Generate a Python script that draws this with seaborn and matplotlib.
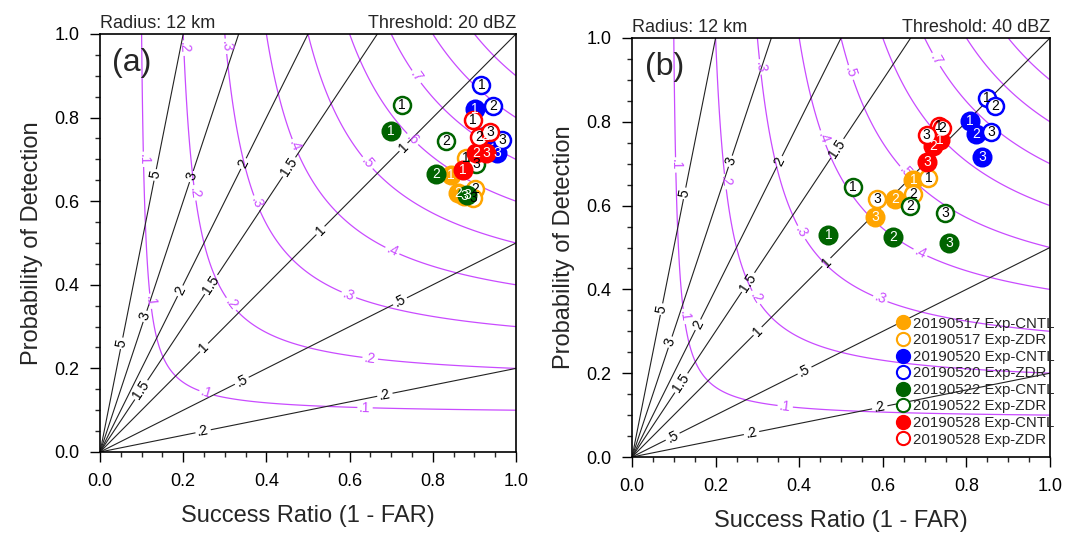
import numpy as np
import pandas as pd
import matplotlib
matplotlib.use("Agg")
import matplotlib.pyplot as plt
from matplotlib.lines import Line2D
from matplotlib.ticker import MultipleLocator
import seaborn as sns

sns.set_theme(style="ticks")
plt.rcParams['font.family'] = ['Liberation Sans', 'DejaVu Sans']

# ---------------- data ----------------
dates = ['20190517', '20190520', '20190522', '20190528']
date_colors = ['#FFA500', '#0000FF', '#006400', '#FF0000']
exps = ['Exp-CNTL', 'Exp-ZDR']
point_ids = ['1', '2', '3']

# Panel (a): threshold 20 dBZ  (success ratio, POD)
a_0517_cntl_sr = [0.843, 0.861, 0.875]; a_0517_cntl_pod = [0.663, 0.619, 0.612]
a_0517_zdr_sr = [0.880, 0.901, 0.897];  a_0517_zdr_pod = [0.703, 0.628, 0.607]
a_0520_cntl_sr = [0.901, 0.925, 0.955]; a_0520_cntl_pod = [0.820, 0.755, 0.715]
a_0520_zdr_sr = [0.917, 0.945, 0.966];  a_0520_zdr_pod = [0.878, 0.828, 0.746]
a_0522_cntl_sr = [0.699, 0.808, 0.883]; a_0522_cntl_pod = [0.768, 0.665, 0.614]
a_0522_zdr_sr = [0.725, 0.832, 0.905];  a_0522_zdr_pod = [0.830, 0.744, 0.688]
a_0528_cntl_sr = [0.873, 0.904, 0.929]; a_0528_cntl_pod = [0.675, 0.716, 0.716]
a_0528_zdr_sr = [0.897, 0.912, 0.937];  a_0528_zdr_pod = [0.794, 0.753, 0.766]

# Panel (b): threshold 40 dBZ
b_0517_cntl_sr = [0.673, 0.629, 0.581]; b_0517_cntl_pod = [0.661, 0.615, 0.572]
b_0517_zdr_sr = [0.709, 0.673, 0.587];  b_0517_zdr_pod = [0.665, 0.628, 0.615]
b_0520_cntl_sr = [0.809, 0.823, 0.838]; b_0520_cntl_pod = [0.802, 0.771, 0.717]
b_0520_zdr_sr = [0.849, 0.868, 0.859];  b_0520_zdr_pod = [0.856, 0.838, 0.776]
b_0522_cntl_sr = [0.470, 0.625, 0.759]; b_0522_cntl_pod = [0.529, 0.526, 0.511]
b_0522_zdr_sr = [0.528, 0.665, 0.749];  b_0522_zdr_pod = [0.644, 0.599, 0.582]
b_0528_cntl_sr = [0.737, 0.721, 0.706]; b_0528_cntl_pod = [0.757, 0.742, 0.705]
b_0528_zdr_sr = [0.735, 0.741, 0.705];  b_0528_zdr_pod = [0.790, 0.786, 0.768]

csi_levels = [0.1, 0.2, 0.3, 0.4, 0.5, 0.6, 0.7, 0.8, 0.9]
bias_levels = [0.2, 0.5, 1.0, 1.5, 2.0, 3.0, 5.0]
panel_tags = ['(a)', '(b)']
thresholds = ['Threshold: 20 dBZ', 'Threshold: 40 dBZ']
radius_text = 'Radius: 12 km'


def build_frame(prefix):
    rows = []
    g = globals()
    for d, date in enumerate(dates):
        for e, exp in enumerate(exps):
            key = f"{prefix}_{date[4:]}_{'cntl' if e == 0 else 'zdr'}"
            for sr, pod, pid in zip(g[key + '_sr'], g[key + '_pod'], point_ids):
                rows.append(dict(date=date, exp=exp, sr=sr, pod=pod, pid=pid))
    return pd.DataFrame(rows)


frames = [build_frame('a'), build_frame('b')]

# label anchor positions (layout only)
csi_lab_pos = [
    [(0.096, 0.70), (0.116, 0.36), (0.256, 0.14), (0.637, 0.102),
     (0.196, 0.966), (0.22, 0.619), (0.3125, 0.352), (0.649, 0.22),
     (0.296, 0.97), (0.373, 0.595), (0.597, 0.373),
     (0.465, 0.73), (0.701, 0.478), (0.641, 0.69), (0.749, 0.746), (0.761, 0.898)],
    [(0.103, 0.697), (0.123, 0.335), (0.366, 0.116),
     (0.222, 0.657), (0.294, 0.379),
     (0.306, 0.931), (0.402, 0.534), (0.593, 0.375),
     (0.454, 0.761), (0.689, 0.486),
     (0.518, 0.916), (0.653, 0.68), (0.725, 0.947)],
]
bias_lab_pos = [
    [(0.132, 0.663), (0.052, 0.26), (0.22, 0.659), (0.107, 0.325),
     (0.345, 0.69), (0.192, 0.386), (0.453, 0.683), (0.268, 0.40), (0.10, 0.148),
     (0.729, 0.73), (0.248, 0.252), (0.529, 0.531),
     (0.34, 0.172), (0.721, 0.361), (0.248, 0.049), (0.685, 0.136)],
    [(0.127, 0.629), (0.075, 0.352), (0.238, 0.705), (0.095, 0.273),
     (0.354, 0.705), (0.163, 0.313), (0.49, 0.737), (0.282, 0.414), (0.119, 0.176),
     (0.466, 0.464), (0.302, 0.299),
     (0.414, 0.204), (0.099, 0.045), (0.286, 0.057), (0.593, 0.117)],
]

# ---------------- figure ----------------
fig = plt.figure(figsize=(10.66, 5.34), dpi=100)
axes = [fig.add_axes([100 / 1066, 82 / 534, 416 / 1066, 418 / 534]),
        fig.add_axes([632 / 1066, 77 / 534, 418 / 1066, 419 / 534])]

grid = np.linspace(0.001, 1.0, 500)
X, Y = np.meshgrid(grid, grid)
CSI = 1.0 / (1.0 / X + 1.0 / Y - 1.0)
BIAS = Y / X

purple = '#c94bff'


def fmt_num(v):
    s = f"{v:g}"
    return s[1:] if s.startswith('0.') else s


for i, ax in enumerate(axes):
    cs1 = ax.contour(X, Y, CSI, levels=csi_levels, colors=purple, linewidths=0.9)
    ax.clabel(cs1, fmt={l: fmt_num(l) for l in csi_levels}, fontsize=10,
              inline=True, inline_spacing=2, manual=csi_lab_pos[i], colors=purple)
    cs2 = ax.contour(X, Y, BIAS, levels=bias_levels, colors='#222222', linewidths=0.8)
    ax.clabel(cs2, fmt={l: fmt_num(l) for l in bias_levels}, fontsize=10,
              inline=True, inline_spacing=2, manual=bias_lab_pos[i], colors='black')

    df = frames[i]
    for d, date in enumerate(dates):
        col = date_colors[d]
        for e, exp in enumerate(exps):
            sub = df[(df.date == date) & (df.exp == exp)]
            if e == 0:
                sns.scatterplot(data=sub, x='sr', y='pod', ax=ax, s=175, color=col,
                                edgecolor=col, linewidth=1.2, zorder=5, legend=False)
                tcol = 'white'
            else:
                sns.scatterplot(data=sub, x='sr', y='pod', ax=ax, s=150, color='white',
                                edgecolor=col, linewidth=1.8, zorder=5, legend=False)
                tcol = 'black'
            for _, r in sub.iterrows():
                ax.text(r.sr, r.pod, r.pid, color=tcol, fontsize=10, ha='center',
                        va='center', zorder=6)

    ax.set_xlim(0, 1)
    ax.set_ylim(0, 1)
    ax.set_xlabel('Success Ratio (1 - FAR)', fontsize=17, labelpad=11)
    ax.set_ylabel('Probability of Detection', fontsize=17, labelpad=8)
    ax.xaxis.set_major_locator(MultipleLocator(0.2))
    ax.yaxis.set_major_locator(MultipleLocator(0.2))
    ax.xaxis.set_minor_locator(MultipleLocator(0.05))
    ax.yaxis.set_minor_locator(MultipleLocator(0.05))
    ax.xaxis.set_major_formatter(matplotlib.ticker.FormatStrFormatter('%.1f'))
    ax.yaxis.set_major_formatter(matplotlib.ticker.FormatStrFormatter('%.1f'))
    ax.tick_params(which='major', direction='out', length=7, width=1.0,
                   labelsize=13, pad=8, colors='black')
    ax.tick_params(which='minor', direction='out', length=3.5, width=1.0)
    for sp in ax.spines.values():
        sp.set_linewidth(1.2)
        sp.set_color('black')
    ax.set_title(radius_text, loc='left', fontsize=13, pad=4)
    ax.set_title(thresholds[i], loc='right', fontsize=13, pad=4)
    ax.text(0.03, 0.93, panel_tags[i], transform=ax.transAxes, fontsize=23,
            ha='left', va='center')

# legend in panel (b)
handles = []
labels = []
for d, date in enumerate(dates):
    col = date_colors[d]
    handles.append(Line2D([], [], linestyle='none', marker='o', markersize=10,
                          markerfacecolor=col, markeredgecolor=col))
    labels.append(f"{date} Exp-CNTL")
    handles.append(Line2D([], [], linestyle='none', marker='o', markersize=9.5,
                          markerfacecolor='white', markeredgecolor=col, markeredgewidth=1.5))
    labels.append(f"{date} Exp-ZDR")
axes[1].legend(handles, labels, loc='lower left', bbox_to_anchor=(0.63, 0.025),
               frameon=False, fontsize=10.8, handlelength=1.0, handletextpad=0.2,
               labelspacing=0.17, borderpad=0, borderaxespad=0)

fig.savefig('out.png', dpi=100)
